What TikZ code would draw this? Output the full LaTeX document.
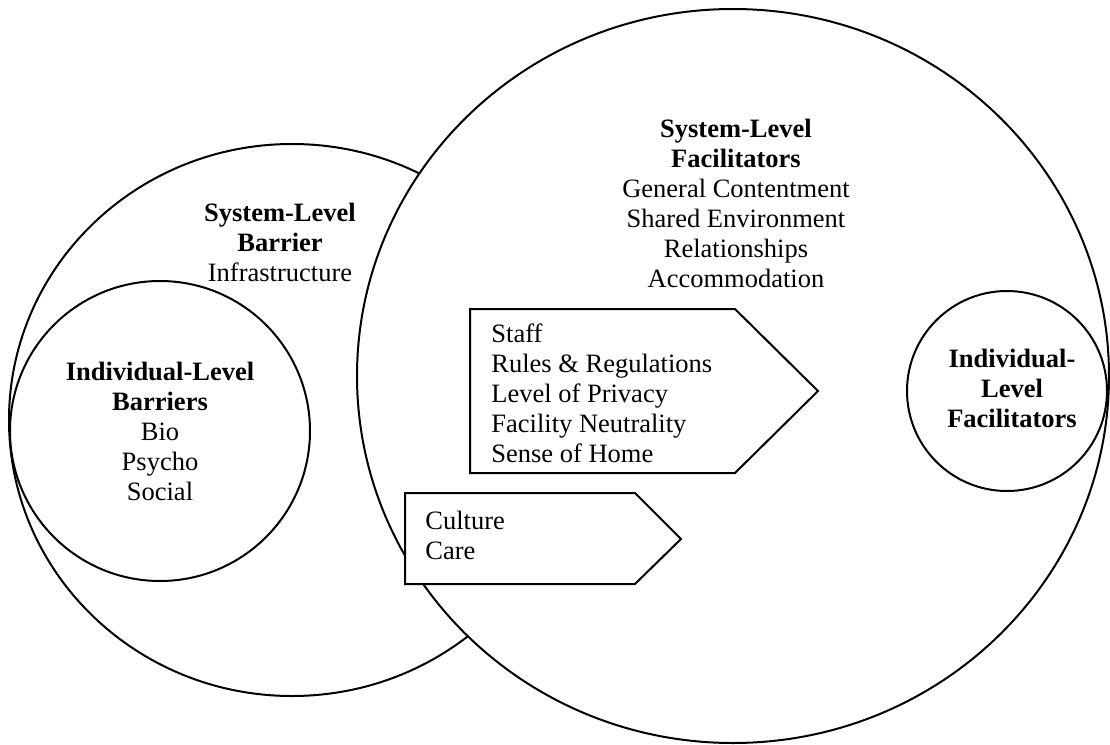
\documentclass[tikz,border=0pt]{standalone}
\usepackage{fontspec}
\setmainfont{Liberation Serif}
\usetikzlibrary{positioning}
\tikzset{font=\fontsize{13.25}{15}\selectfont}
\tikzset{ring/.style={draw, line width=1pt, fill=white}}
\tikzset{tag/.style={draw, line width=1pt, fill=white, line join=miter}}
\tikzset{lbl/.style={anchor=north, align=center, inner sep=0pt}}
\tikzset{lst/.style={anchor=north west, align=left, inner sep=0pt}}

\begin{document}
\begin{tikzpicture}[x=0.5pt, y=-0.5pt]
  \useasboundingbox (0,0) rectangle (1110,745);

  % circles, back to front
  \draw[ring] (292,420) ellipse [x radius=283, y radius=276];
  \draw[ring] (160,431) circle [radius=150];
  \draw[ring] (733,376) ellipse [x radius=376, y radius=367];
  \draw[ring] (1007,391) circle [radius=100];

  % arrow boxes
  \draw[tag] (470,309) -- (735,309) -- (818,391) -- (735,473) -- (470,473) -- cycle;
  \draw[tag] (405,493) -- (635,493) -- (681,539) -- (635,584) -- (405,584) -- cycle;

  \node[lbl] (sysbar) at (280,203) {\textbf{System-Level}\\\textbf{Barrier}\\Infrastructure};
  \node[lbl] (indbar) at (160,362) {\textbf{Individual-Level}\\\textbf{Barriers}\\Bio\\Psycho\\Social};
  \node[lbl] (sysfac) at (736,119) {\textbf{System-Level}\\\textbf{Facilitators}\\General Contentment\\Shared Environment\\Relationships\\Accommodation};
  \node[lbl] (indfac) at (1012,349) {\textbf{Individual-}\\\textbf{Level}\\\textbf{Facilitators}};

  \node[lst] (staff) at (491,323) {Staff\\Rules \& Regulations\\Level of Privacy\\Facility Neutrality\\Sense of Home};
  \node[lst] (culture) at (425,511) {Culture\\Care};
\end{tikzpicture}
\end{document}
